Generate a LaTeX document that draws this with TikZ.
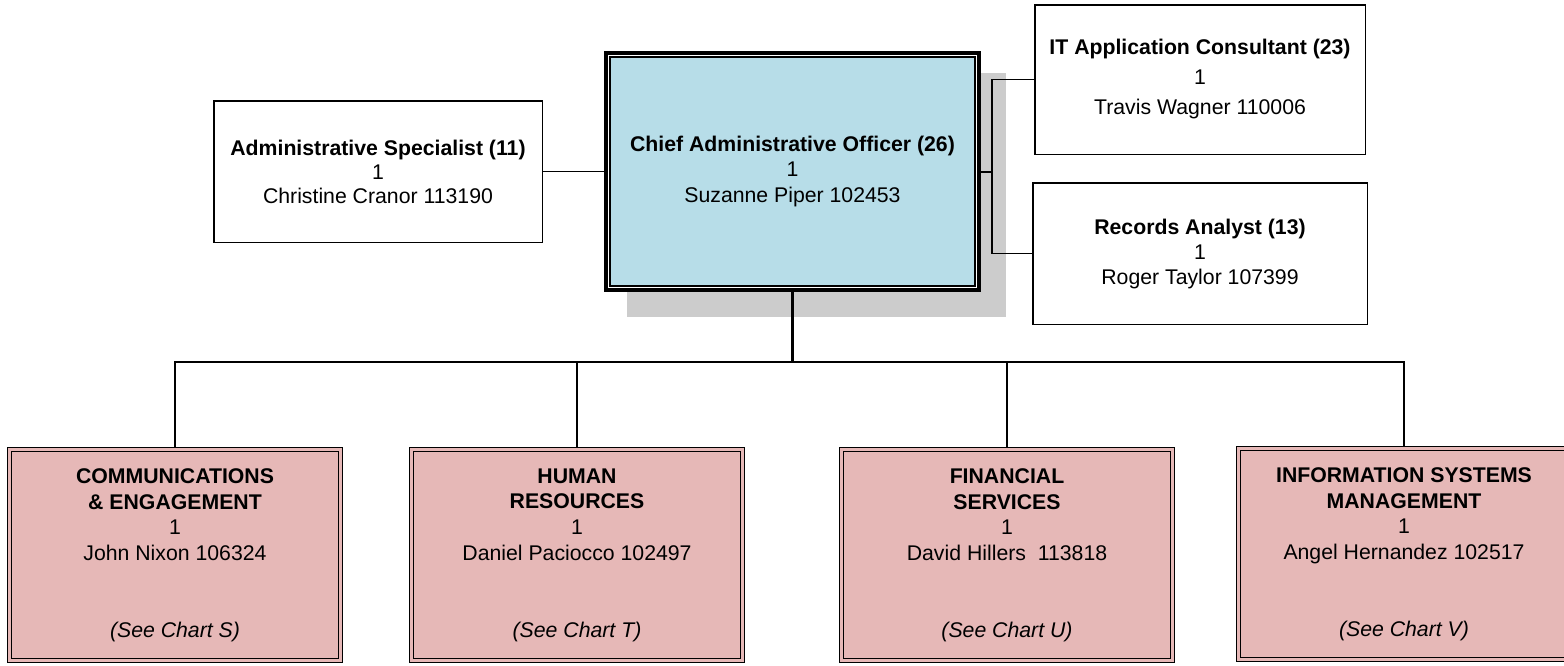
\documentclass[tikz,border=0pt]{standalone}
\usepackage{fontspec}
\setmainfont{Liberation Sans}
\usetikzlibrary{backgrounds}
\definecolor{caoblue}{RGB}{183,221,232}
\definecolor{unitpink}{RGB}{230,184,183}
\definecolor{shadowgray}{RGB}{204,204,204}
\tikzset{
  txt/.style={align=center, font=\fontsize{21.25}{25.5}\selectfont, inner sep=0pt, text=black},
  posbox/.style={txt, draw=black, line width=1.5pt, fill=white},
  unitbox/.style={txt, font=\fontsize{21.25}{25.7}\selectfont, draw=black, line width=1.3pt,
    double=unitpink, double distance=2.7pt, fill=unitpink,
    minimum width=330.7pt, minimum height=210.7pt},
  conn/.style={draw=black, line width=1.5pt},
  mainconn/.style={draw=black, line width=2.5pt},
}
\begin{document}
\begin{tikzpicture}[x=1pt,y=-1pt]
\clip (0,0) rectangle (1564,665);

% position boxes
\node[posbox, font=\fontsize{21.25}{24}\selectfont, minimum width=328.5pt, minimum height=141.5pt] (adm) at (378,171.5)
  {\textbf{Administrative Specialist (11)}\\1\\Christine Cranor 113190};
\node[txt, fill=caoblue, minimum width=377pt, minimum height=241pt] (cao) at (792.5,171.5)
  {\textbf{Chief Administrative Officer (26)}\\1\\Suzanne Piper 102453};
\draw[black, line width=4.5pt] ([shift={(2.25,2.25)}]cao.north west) rectangle ([shift={(-2.25,-2.25)}]cao.south east);
\draw[white, line width=1pt] ([shift={(5,5)}]cao.north west) rectangle ([shift={(-5,-5)}]cao.south east);
\draw[black, line width=2pt] ([shift={(6.5,6.5)}]cao.north west) rectangle ([shift={(-6.5,-6.5)}]cao.south east);

\node[posbox, font=\fontsize{21.25}{30}\selectfont, minimum width=330.5pt, minimum height=149.5pt] (it) at (1200,79.5)
  {\textbf{IT Application Consultant (23)}\\1\\Travis Wagner 110006};
\node[posbox, font=\fontsize{21.25}{25}\selectfont, minimum width=334.5pt, minimum height=141.5pt] (rec) at (1200,253.5)
  {\textbf{Records Analyst (13)}\\1\\Roger Taylor 107399};

% unit boxes
\node[unitbox] (u1) at (175,555)
  {\textbf{COMMUNICATIONS}\\\textbf{\& ENGAGEMENT}\\1\\John Nixon 106324\\[51pt]\textit{(See Chart S)}};
\node[unitbox] (u2) at (577,555)
  {\textbf{HUMAN}\\\textbf{RESOURCES}\\1\\Daniel Paciocco 102497\\[51pt]\textit{(See Chart T)}};
\node[unitbox] (u3) at (1007,555)
  {\textbf{FINANCIAL}\\\textbf{SERVICES}\\1\\David Hillers\ \ 113818\\[51pt]\textit{(See Chart U)}};
\node[unitbox] (u4) at (1404,554)
  {\textbf{INFORMATION SYSTEMS}\\\textbf{MANAGEMENT}\\1\\Angel Hernandez 102517\\[51pt]\textit{(See Chart V)}};

\coordinate (rj) at (992,172);
\coordinate (bus) at (792.5,362);

\begin{scope}[on background layer]
  \fill[white] (0,0) rectangle (1564,665);
  \fill[shadowgray] (627,73) rectangle (1006,317);
  \draw[conn] (adm.east) -- (cao.west);
  \draw[conn] (cao.east |- rj) -- (rj);
  \draw[conn] (it.west) -| (rj) |- (rec.west);
  \draw[mainconn] (cao.south) -- (bus);
  \draw[conn] (u1.north) -- (u1.north |- bus) -- (u4.north |- bus) -- (u4.north);
  \draw[conn] (u2.north) -- (u2.north |- bus);
  \draw[conn] (u3.north) -- (u3.north |- bus);
\end{scope}
\end{tikzpicture}
\end{document}
